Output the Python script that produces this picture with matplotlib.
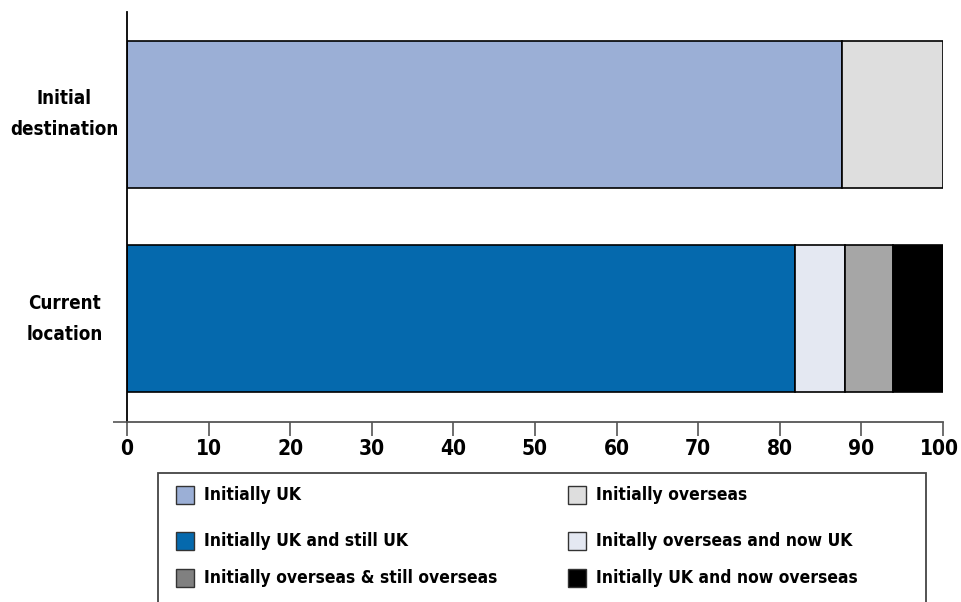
import matplotlib.pyplot as plt
import matplotlib.transforms as mtransforms
from matplotlib.patches import Rectangle

# Data
categories = ["Current\nlocation", "Initial\ndestination"]
ticks = [0, 10, 20, 30, 40, 50, 60, 70, 80, 90, 100]

# initial destination row
initial_labels = ["Initially UK", "Initially overseas"]
initial_values = [87.6, 12.4]
initial_colors = ["#9bafd6", "#dedede"]

# current location row
current_labels = ["Initially UK and still UK", "Initally overseas and now UK",
                  "Initially overseas & still overseas", "Initially UK and now overseas"]
current_values = [81.9, 6.1, 5.9, 6.1]
current_colors = ["#0569ad", "#e4e8f2", "#a6a6a6", "#000000"]

# legend swatch colours (slightly different from the bars in the original)
legend_labels = ["Initially UK", "Initially overseas",
                 "Initially UK and still UK", "Initally overseas and now UK",
                 "Initially overseas & still overseas", "Initially UK and now overseas"]
legend_colors = ["#9bafd6", "#dedede", "#0569ad", "#e4e8f2", "#808080", "#000000"]

plt.rcParams['font.family'] = ['DejaVu Sans']
plt.rcParams['font.stretch'] = 'condensed'
plt.rcParams['font.weight'] = 'bold'

W, H = 961, 602
fig = plt.figure(figsize=(W / 100, H / 100), dpi=100)
ax = fig.add_axes([127 / W, 1 - 422 / H, (943 - 127) / W, (422 - 12) / H])

bar_h = 0.72
left = 0
for v, c in zip(initial_values, initial_colors):
    ax.barh(1, v, left=left, height=bar_h, color=c, edgecolor="black", linewidth=1.2)
    left += v
left = 0
for v, c in zip(current_values, current_colors):
    ax.barh(0, v, left=left, height=bar_h, color=c, edgecolor="black", linewidth=1.2)
    left += v

ax.set_xlim(0, 100)
ax.set_ylim(-0.507, 1.502)

for s in ["top", "right"]:
    ax.spines[s].set_visible(False)
ax.spines["left"].set_color("black")
ax.spines["left"].set_linewidth(1.3)
ax.spines["bottom"].set_color("#555555")
ax.spines["bottom"].set_linewidth(1.3)

ax.set_xticks(ticks)
ax.set_xticklabels([str(t) for t in ticks], fontsize=15, fontweight="bold")
ax.tick_params(axis="x", length=10, width=1.2, color="#555555", pad=2)
# nudge the last label so it stays inside the figure
last = ax.get_xticklabels()[-1]
last.set_transform(last.get_transform() +
                   mtransforms.ScaledTranslation(-4 / 100, 0, fig.dpi_scale_trans))

ax.set_yticks([0, 1])
ax.set_yticklabels(categories, fontsize=13.5, fontweight="bold", ha="center",
                   va="center", multialignment="center", linespacing=1.8)
ax.tick_params(axis="y", length=0, pad=45)
ax.set_yticks([-0.507], minor=True)
ax.tick_params(axis="y", which="minor", length=10, width=1.2, color="#555555")

# legend box (runs off the bottom edge)
fig.patches.append(Rectangle((158 / W, -0.05), (926 - 158) / W, 1 - 473 / H + 0.05,
                             transform=fig.transFigure, facecolor="white",
                             edgecolor="#444444", linewidth=1.3))
col_x = [176, 568]
row_y = [495, 541, 578]
sw = 18
for i, (lab, col) in enumerate(zip(legend_labels, legend_colors)):
    r, c = divmod(i, 2)
    x0 = col_x[c]
    yc = row_y[r]
    fig.patches.append(Rectangle((x0 / W, 1 - (yc + sw / 2) / H), sw / W, sw / H,
                                 transform=fig.transFigure, facecolor=col,
                                 edgecolor="#333333", linewidth=1.0))
    fig.text((x0 + 28) / W, 1 - yc / H, lab, fontsize=12.5, fontweight="bold",
             va="center", ha="left")

fig.savefig("out.png", dpi=100)
